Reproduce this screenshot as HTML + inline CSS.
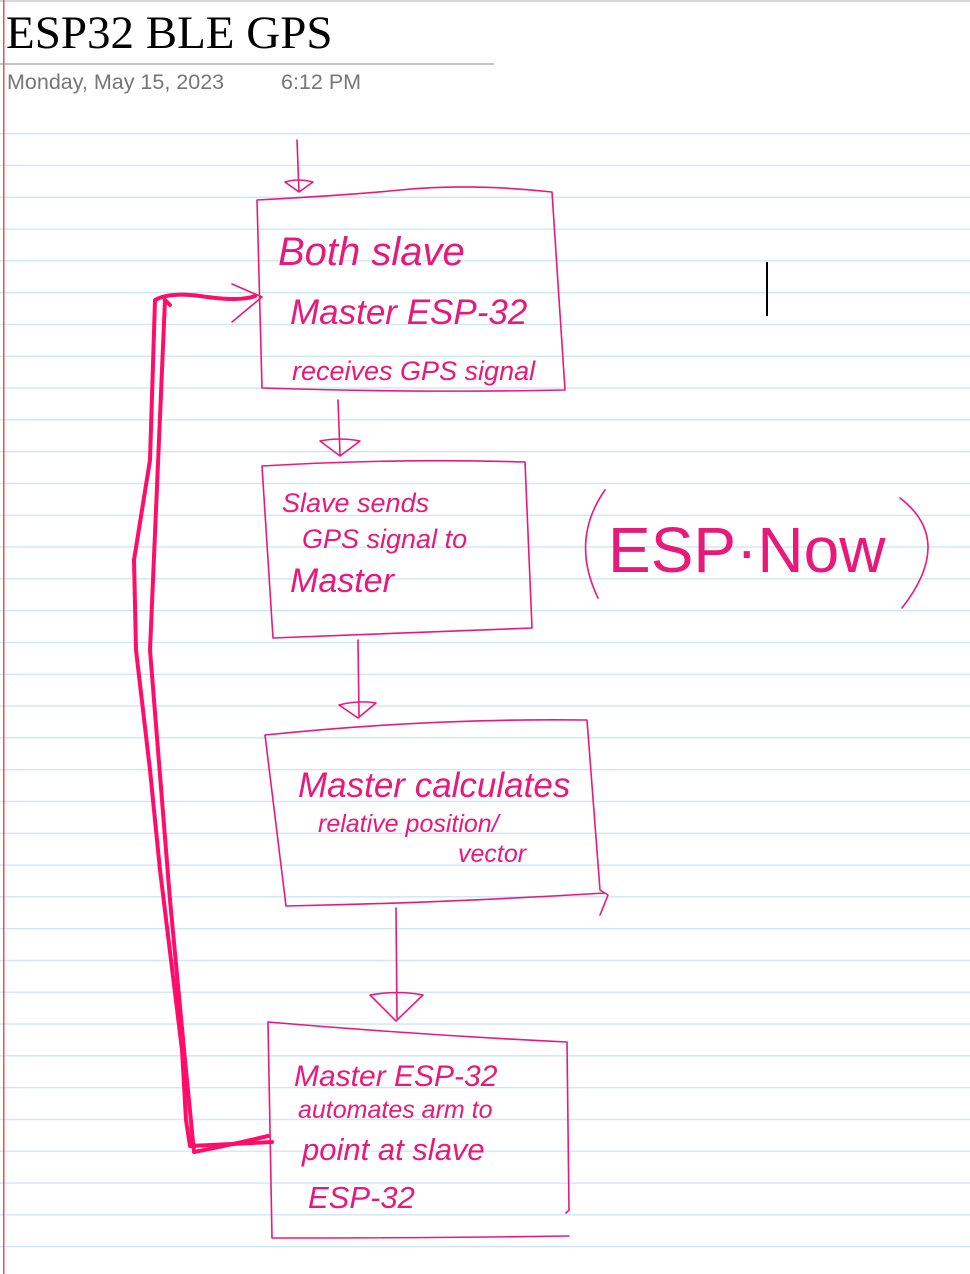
<!DOCTYPE html>
<html><head><meta charset="utf-8"><style>
html,body{margin:0;padding:0;background:#fff;}
body{width:970px;height:1274px;position:relative;overflow:hidden;}
</style></head><body>
<svg width="970" height="1274" xmlns="http://www.w3.org/2000/svg" style="position:absolute;left:0;top:0">
<defs>
<pattern id="rules" x="0" y="133" width="970" height="31.8" patternUnits="userSpaceOnUse">
<rect x="0" y="0" width="970" height="1.3" fill="#c9e6f5"/>
</pattern>
</defs>
<rect x="0" y="133" width="970" height="1141" fill="url(#rules)"/>
<rect x="0" y="0" width="970" height="2" fill="#d8d8d8"/>
<rect x="3" y="0" width="1.5" height="1274" fill="#f0504a"/>
<rect x="0" y="63.5" width="494" height="1" fill="#888"/>
<text x="6" y="48" font-family="Liberation Serif, serif" font-size="47" fill="#000">ESP32 BLE GPS</text>
<text x="7" y="89" font-family="Liberation Sans, sans-serif" font-size="21.5" fill="#767676">Monday, May 15, 2023</text>
<text x="281" y="89" font-family="Liberation Sans, sans-serif" font-size="21.5" fill="#767676">6:12 PM</text>
<line x1="767" y1="262" x2="767" y2="316" stroke="#000" stroke-width="2"/>
<g fill="none" stroke="#e8197a" stroke-width="1.6" stroke-linecap="round" stroke-linejoin="round">
<path d="M297 140 L299 192 M285 182 Q298 178 313 182 L299 192 Z"/>
<path d="M257 200 Q350 195 400 190 Q470 183 552 192 L565 390 Q420 393 262 388 L257 200"/>
<path d="M338 400 L340 455 M320 441 Q340 437 360 441 L340 456 Z"/>
<path d="M262 466 Q400 458 525 462 L532 628 Q400 633 273 638 L262 466"/>
<path d="M358 640 L359 716 M339 705 Q358 700 376 703 L358 718 Z"/>
<path d="M265 735 Q430 718 587 720 L600 890 L608 895 L600 915 M605 893 Q440 903 286 906 L265 735"/>
<path d="M396 908 L397 1018 M370 995 Q397 990 423 995 L396 1021 Z"/>
<path d="M268 1022 Q420 1035 567 1042 L569 1210 L566 1213 M569 1236 Q430 1238 272 1238 L268 1022"/>
<path d="M232 284 L262 297 L232 322"/>
<path d="M605 490 Q570 540 598 598"/>
<path d="M900 498 Q955 540 902 608"/>
</g>
<g fill="none" stroke="#ff0d68" stroke-width="4" stroke-linecap="round" stroke-linejoin="round">
<path d="M268 1136 Q230 1145 194 1152 L185 1060 L170 900 L150 650 L165 300 L170 305"/>
<path d="M272 1142 L190 1146 L186 1120 L182 1050 L160 870 L150 770 L136 650 L134 560 L150 460 L155 300 Q170 292 200 296 Q240 302 255 296"/>
</g>
<g font-family="Liberation Sans, sans-serif" fill="#e8197a" font-style="italic">
<text x="278" y="265" font-size="40">Both  slave</text>
<text x="290" y="324" font-size="35">Master ESP-32</text>
<text x="292" y="380" font-size="27">receives GPS signal</text>
<text x="282" y="512" font-size="27">Slave  sends</text>
<text x="302" y="548" font-size="27">GPS  signal  to</text>
<text x="290" y="592" font-size="34">Master</text>
<text x="298" y="797" font-size="35">Master  calculates</text>
<text x="318" y="832" font-size="25">relative  position/</text>
<text x="458" y="862" font-size="25">vector</text>
<text x="294" y="1086" font-size="30">Master ESP-32</text>
<text x="298" y="1118" font-size="25">automates   arm  to</text>
<text x="302" y="1160" font-size="31">point  at  slave</text>
<text x="308" y="1208" font-size="31">ESP-32</text>
<text x="608" y="572" font-size="64" font-style="normal">ESP·Now</text>
</g>
</svg>
</body></html>
